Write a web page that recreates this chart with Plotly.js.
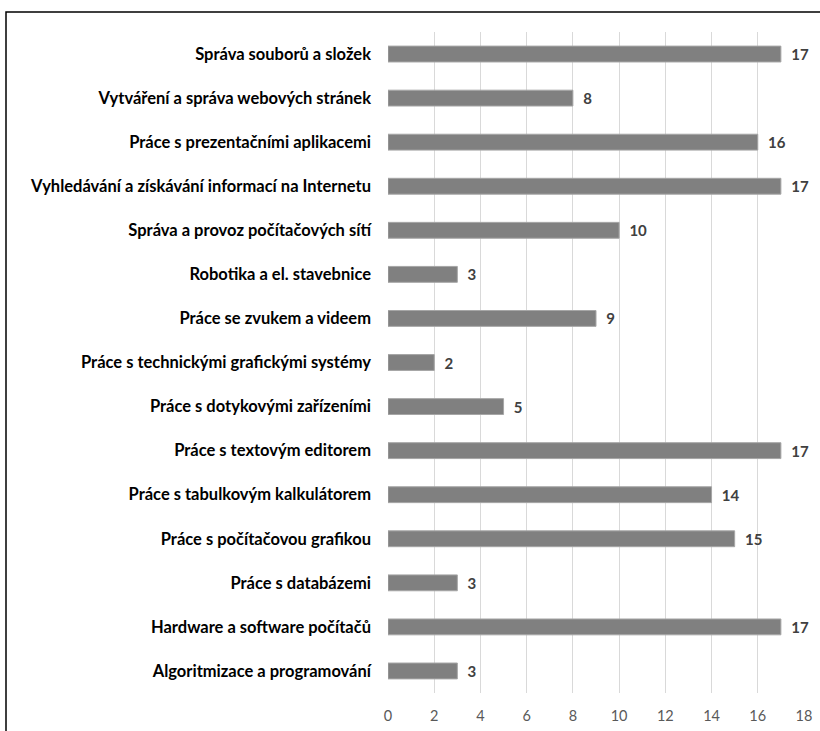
<!DOCTYPE html>
<html><head><meta charset="utf-8">
<script src="https://cdn.plot.ly/plotly-3.0.1.min.js"></script>
<style>html,body{margin:0;padding:0;background:#fff;}#chart{width:820px;height:731px;}</style>
</head><body><div id="chart"></div>
<script>
const categories = [
  "Správa souborů a složek",
  "Vytváření a správa webových stránek",
  "Práce s prezentačními aplikacemi",
  "Vyhledávání a získávání informací na Internetu",
  "Správa a provoz počítačových sítí",
  "Robotika a el. stavebnice",
  "Práce se zvukem a videem",
  "Práce s technickými grafickými systémy",
  "Práce s dotykovými zařízeními",
  "Práce s textovým editorem",
  "Práce s tabulkovým kalkulátorem",
  "Práce s počítačovou grafikou",
  "Práce s databázemi",
  "Hardware a software počítačů",
  "Algoritmizace a programování"
];
const values = [17, 8, 16, 17, 10, 3, 9, 2, 5, 17, 14, 15, 3, 17, 3];
const xTicks = [0, 2, 4, 6, 8, 10, 12, 14, 16, 18];

const FONT = "Lato, 'Open Sans', sans-serif";
const trace = {
  type: 'bar', orientation: 'h',
  x: values, y: categories,
  marker: {color: '#808080', line: {color: '#a6a6a6', width: 1}},
  text: values.map(v => '  ' + v),
  textposition: 'outside',
  constraintext: 'none',
  cliponaxis: false,
  textfont: {family: FONT, size: 15, color: '#404040', weight: 'bold'},
  hoverinfo: 'none'
};
const layout = {
  width: 820, height: 731,
  margin: {l: 388, r: 16, t: 32, b: 38},
  paper_bgcolor: '#fff', plot_bgcolor: '#fff',
  bargap: 0.64,
  showlegend: false,
  xaxis: {
    range: [0, 18], tickvals: xTicks, ticktext: xTicks.map(String),
    showgrid: true, gridcolor: '#d9d9d9', gridwidth: 1,
    zeroline: false, showline: false, ticks: '',
    tickfont: {family: FONT, size: 14.5, color: '#595959'},
    ticklabelstandoff: 12
  },
  yaxis: {
    type: 'category', autorange: 'reversed',
    showgrid: false, zeroline: false, showline: false, ticks: '',
    tickfont: {family: FONT, size: 16.5, color: '#000', weight: 'bold'},
    ticklabelstandoff: 16
  },
  shapes: [{
    type: 'rect', xref: 'paper', yref: 'paper',
    x0: (6 - 388) / 416, x1: 1.2, y0: -0.2, y1: (693 - 12) / 661,
    line: {color: '#000', width: 1.5}, fillcolor: 'rgba(0,0,0,0)', layer: 'above'
  }]
};
Plotly.newPlot('chart', [trace], layout, {staticPlot: true, displayModeBar: false});
</script></body></html>
